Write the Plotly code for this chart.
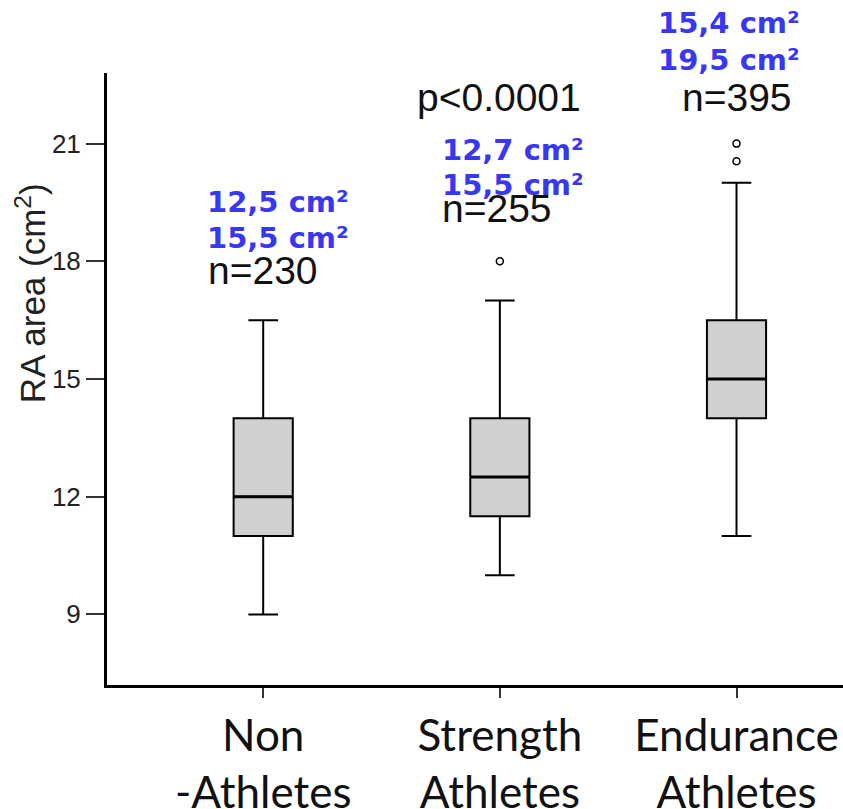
import plotly.graph_objects as go

categories = ["Non<br>-Athletes", "Strength<br>Athletes", "Endurance<br>Athletes"]
positions = [0, 1, 2]
lower_fence = [9.0, 10.0, 11.0]
q1 = [11.0, 11.5, 14.0]
median = [12.0, 12.5, 15.0]
q3 = [14.0, 14.0, 16.5]
upper_fence = [16.5, 17.0, 20.0]
outlier_x = [1, 2, 2]
outlier_y = [18.0, 20.55, 21.0]
n_labels = ["n=230", "n=255", "n=395"]
blue_lines = [["12,5 cm²", "15,5 cm²"], ["12,7 cm²", "15,5 cm²"], ["15,4 cm²", "19,5 cm²"]]

BOX_W = 0.25

fig = go.Figure()
fig.add_trace(go.Box(
    x=positions, q1=q1, median=median, q3=q3,
    lowerfence=lower_fence, upperfence=upper_fence,
    width=BOX_W, whiskerwidth=0.5,
    fillcolor="#d0d0d0", line=dict(color="black", width=2),
    boxpoints=False, showlegend=False, hoverinfo="skip",
))
# thicker median lines
for p, m in zip(positions, median):
    fig.add_trace(go.Scatter(x=[p - BOX_W / 2, p + BOX_W / 2], y=[m, m], mode="lines",
                             line=dict(color="black", width=3), showlegend=False, hoverinfo="skip"))
fig.add_trace(go.Scatter(
    x=outlier_x, y=outlier_y, mode="markers",
    marker=dict(symbol="circle-open", size=7, color="black", line=dict(width=1.5)),
    showlegend=False, hoverinfo="skip",
))

black_font = dict(family="Liberation Sans, Arial", size=39, color="#111111")
blue_font = dict(family="DejaVu Sans", size=29, color="#3838f2", weight="bold")

# n labels
n_pos = [(0.0, 17.76), (0.987, 19.34), (2.0, 22.17)]
for (x, y), t in zip(n_pos, n_labels):
    fig.add_annotation(x=x, y=y, text=t, showarrow=False, font=black_font,
                       xanchor="center", yanchor="middle")
fig.add_annotation(x=0.996, y=22.17, text="p<0.0001", showarrow=False, font=black_font,
                   xanchor="center", yanchor="middle")

# blue labels (paper y coordinates so those above the axis range still show)
blue_pos = [(0.063, 0.789, 0.730), (1.055, 0.874, 0.817), (1.97, 1.082, 1.021)]
for (x, y1, y2), lines in zip(blue_pos, blue_lines):
    fig.add_annotation(x=x, y=y1, yref="paper", text=lines[0], showarrow=False, font=blue_font,
                       xanchor="center", yanchor="middle")
    fig.add_annotation(x=x, y=y2, yref="paper", text=lines[1], showarrow=False, font=blue_font,
                       xanchor="center", yanchor="middle")

fig.add_annotation(x=-0.104, xref="paper", y=17.2, yref="y", text="RA area (cm<sup>2</sup>)",
                   textangle=-90, showarrow=False,
                   font=dict(family="Liberation Sans, Arial", size=35, color="#222222"),
                   xanchor="center", yanchor="middle")

fig.update_layout(
    width=843, height=809,
    margin=dict(l=107, r=0, t=73, b=124, autoexpand=False),
    paper_bgcolor="white", plot_bgcolor="white",
    xaxis=dict(range=[-0.66, 2.45], tickvals=positions, ticktext=categories,
               showline=True, linecolor="black", linewidth=3, automargin=False,
               ticks="outside", ticklen=10, tickwidth=2, tickcolor="#333333",
               showgrid=False, zeroline=False,
               tickfont=dict(family="Lato, Carlito, Calibri", size=44, color="#111111")),
    yaxis=dict(range=[7.2, 22.8], tickvals=[9, 12, 15, 18, 21], automargin=False,
               showline=True, linecolor="black", linewidth=3,
               ticks="outside", ticklen=18, tickwidth=2, tickcolor="#333333",
               showgrid=False, zeroline=False,
               tickfont=dict(family="Liberation Sans, Arial", size=26, color="#222222")),
)

fig.write_html("out.html")
